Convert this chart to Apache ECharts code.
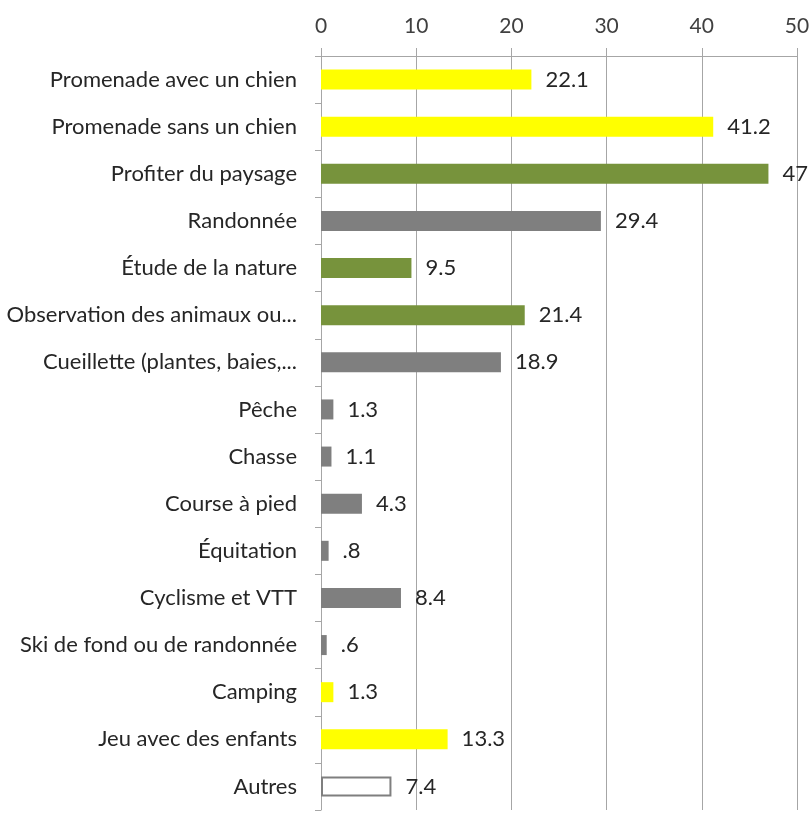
<!DOCTYPE html>
<html><head><meta charset="utf-8">
<script src="https://cdn.jsdelivr.net/npm/echarts@6/dist/echarts.min.js"></script>
<style>html,body{margin:0;padding:0;background:#fff}#c{width:810px;height:835px}</style>
</head><body><div id="c"></div>
<script>
const categories = ["Promenade avec un chien","Promenade sans un chien","Profiter du paysage","Randonnée","Étude de la nature","Observation des animaux ou...","Cueillette (plantes, baies,...","Pêche","Chasse","Course à pied","Équitation","Cyclisme et VTT","Ski de fond ou de randonnée","Camping","Jeu avec des enfants","Autres"];
const values = [22.1,41.2,47,29.4,9.5,21.4,18.9,1.3,1.1,4.3,0.8,8.4,0.6,1.3,13.3,7.4];
const groups = ["yellow","yellow","green","gray","green","green","gray","gray","gray","gray","gray","gray","gray","yellow","yellow","white"];
const tickValues = [0,10,20,30,40,50];

const palette = {yellow:"#FFFF00", green:"#77933C", gray:"#7F7F7F", white:"#FFFFFF"};
const fmt = v => { let s = String(v); if (s.startsWith("0.")) s = s.slice(1); return s; };
const font = "Lato, 'Open Sans', sans-serif";
const chart = echarts.init(document.getElementById('c'), null, {renderer:'canvas'});
chart.setOption({
  animation:false,
  backgroundColor:'#fff',
  grid:{left:321, right:13, top:56, bottom:25, containLabel:false, outerBoundsMode:'none'},
  xAxis:{type:'value', position:'top', min:tickValues[0], max:tickValues[tickValues.length-1], interval:10,
    axisLine:{show:true, lineStyle:{color:'#A6A6A6', width:1}},
    axisTick:{show:true, length:8, lineStyle:{color:'#A6A6A6'}},
    splitLine:{show:true, lineStyle:{color:'#A6A6A6', width:1}},
    axisLabel:{color:'#404040', fontSize:21, fontFamily:font, margin:19}},
  yAxis:{type:'category', inverse:true, data:categories,
    axisLine:{show:true, lineStyle:{color:'#A6A6A6'}},
    axisTick:{show:true, length:6, lineStyle:{color:'#A6A6A6'}},
    axisLabel:{color:'#262626', fontSize:22, fontFamily:font, margin:24}},
  series:[{type:'bar', barWidth:20,
    data: values.map((v,i)=>({value:v, itemStyle:{color:palette[groups[i]], borderColor: groups[i]==='white' ? '#7F7F7F' : palette[groups[i]], borderWidth: groups[i]==='white'?2:0}})),
    label:{show:true, position:'right', distance:14, color:'#262626', fontSize:22, fontFamily:font, formatter:p=>fmt(p.value)}
  }]
});
</script></body></html>
